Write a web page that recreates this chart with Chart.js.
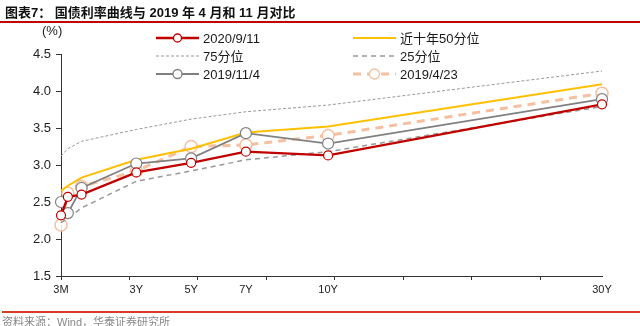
<!DOCTYPE html>
<html>
<head>
<meta charset="utf-8">
<script src="https://cdn.jsdelivr.net/npm/chart.js@4.4.1/dist/chart.umd.min.js"></script>
<style>
  html, body { margin: 0; padding: 0; background: #fff; }
  #wrap { position: relative; width: 640px; height: 326px; overflow: hidden; font-family: "Liberation Sans", "Noto Sans CJK SC", sans-serif; }
  #title { position: absolute; left: 5px; top: 2px; font-size: 13px; font-weight: bold; color: #111; white-space: nowrap; font-family: "Liberation Sans", "Noto Sans CJK SC", sans-serif; }
  #tline { position: absolute; left: 0; top: 21px; width: 640px; height: 1.5px; background: #C00000; }
  #bline { position: absolute; left: 2px; top: 311px; width: 638px; height: 2px; background: #D93A26; }
  #source { position: absolute; left: 2px; top: 313px; font-size: 11px; color: #888; white-space: nowrap; }
  #unit { position: absolute; left: 42px; top: 23px; font-size: 13px; color: #222; }
  canvas { position: absolute; left: 0; top: 0; }
</style>
</head>
<body>
<div id="wrap">
  <canvas id="c" width="640" height="326"></canvas>
  <div id="title">图表7：&nbsp;国债利率曲线与 2019 年 4 月和 11 月对比</div>
  <div id="tline"></div>
  <div id="unit">(%)</div>
  <div id="bline"></div>
  <div id="source">资料来源：Wind，华泰证券研究所</div>
</div>
<script>
// ---- data ----
const tenors      = [0.25, 0.5, 1, 3, 5, 7, 10, 20];
const tenorNames  = ['3M', '6M', '1Y', '3Y', '5Y', '7Y', '10Y', '30Y'];
const labelTenors = [0.25, 3, 5, 7, 10, 20];
const labelNames  = ['3M', '3Y', '5Y', '7Y', '10Y', '30Y'];
const tickMarks   = [0.25, 2.75, 5.25, 7.75, 10.25, 12.75, 15.25, 17.75];
const yTickValues = [1.5, 2.0, 2.5, 3.0, 3.5, 4.0, 4.5];

const s20200911 = [2.32, 2.57, 2.60, 2.90, 3.03, 3.18, 3.13, 3.82];
const sMedian   = [2.65, 2.72, 2.83, 3.07, 3.22, 3.44, 3.52, 4.09];
const sP75      = [3.12, 3.22, 3.32, 3.48, 3.62, 3.72, 3.81, 4.27];
const sP25      = [2.22, 2.28, 2.42, 2.78, 2.92, 3.07, 3.18, 3.79];
const s20191104 = [2.50, 2.35, 2.69, 3.02, 3.09, 3.43, 3.29, 3.89];
const s20190423 = [2.19, 2.62, 2.71, 2.92, 3.25, 3.27, 3.40, 3.97];

const names = ['2020/9/11', '近十年50分位', '75分位', '25分位', '2019/11/4', '2019/4/23'];

const pts = arr => arr.map((v, i) => ({ x: tenors[i], y: v }));

const RED = '#C00000', YEL = '#FFC000', DG = '#999999', GRY = '#808080', PNK = '#F5BFA0';

const datasets = [
  { label: names[0], data: pts(s20200911), borderColor: RED, borderWidth: 2.3,
    pointRadius: 4.5, pointBackgroundColor: '#fff', pointBorderColor: RED, pointBorderWidth: 1.2 },
  { label: names[4], data: pts(s20191104), borderColor: GRY, borderWidth: 1.8,
    pointRadius: 5.5, pointBackgroundColor: '#fff', pointBorderColor: GRY, pointBorderWidth: 1.2 },
  { label: names[1], data: pts(sMedian), borderColor: YEL, borderWidth: 2, pointRadius: 0 },
  { label: names[2], data: pts(sP75), borderColor: DG, borderWidth: 1, borderDash: [3, 2], pointRadius: 0 },
  { label: names[3], data: pts(sP25), borderColor: DG, borderWidth: 1.5, borderDash: [5, 4], pointRadius: 0 },
  { label: names[5], data: pts(s20190423), borderColor: PNK, borderWidth: 3, borderDash: [8, 6],
    pointRadius: 6, pointBackgroundColor: 'rgba(255,255,255,0.85)', pointBorderColor: PNK, pointBorderWidth: 1.5 }
].map(d => Object.assign({ clip: false, tension: 0, fill: false }, d));

const near = (a, b) => Math.abs(a - b) < 1e-6;

const legendPlugin = {
  id: 'customLegend',
  afterDraw(chart) {
    const ctx = chart.ctx;
    const items = [
      { col: 0, row: 0, color: RED, w: 2.3, dash: [], pt: 4, ptc: RED, text: names[0] },
      { col: 1, row: 0, color: YEL, w: 2, dash: [], pt: 0, text: names[1] },
      { col: 0, row: 1, color: DG, w: 1, dash: [3, 2], pt: 0, text: names[2] },
      { col: 1, row: 1, color: DG, w: 1.5, dash: [5, 4], pt: 0, text: names[3] },
      { col: 0, row: 2, color: GRY, w: 1.8, dash: [], pt: 4.5, ptc: GRY, text: names[4] },
      { col: 1, row: 2, color: PNK, w: 3, dash: [8, 6], pt: 5, ptc: PNK, text: names[5] }
    ];
    const colX = [156, 353], rowY = [38, 56, 74], sw = 43;
    ctx.save();
    items.forEach(it => {
      const x0 = colX[it.col], y = rowY[it.row];
      ctx.beginPath();
      ctx.setLineDash(it.dash);
      ctx.lineWidth = it.w;
      ctx.strokeStyle = it.color;
      ctx.moveTo(x0, y); ctx.lineTo(x0 + sw, y);
      ctx.stroke();
      ctx.setLineDash([]);
      if (it.pt) {
        ctx.beginPath();
        ctx.arc(x0 + sw / 2, y, it.pt, 0, Math.PI * 2);
        ctx.fillStyle = '#fff'; ctx.fill();
        ctx.lineWidth = 1.3; ctx.strokeStyle = it.ptc; ctx.stroke();
      }
      ctx.fillStyle = '#1a1a1a';
      ctx.font = '13px "Liberation Sans", "Noto Sans CJK SC", sans-serif';
      ctx.textBaseline = 'middle';
      ctx.textAlign = 'left';
      ctx.fillText(it.text, x0 + sw + 4, y + 1);
    });
    ctx.restore();
  }
};

new Chart(document.getElementById('c'), {
  type: 'line',
  data: { datasets },
  plugins: [legendPlugin],
  options: {
    responsive: false,
    animation: false,
    devicePixelRatio: 1,
    layout: { padding: { top: 54, left: 0, right: 38, bottom: 0 } },
    plugins: { legend: { display: false }, tooltip: { enabled: false }, title: { display: false } },
    scales: {
      x: {
        type: 'linear', min: 0.25, max: 20,
        afterBuildTicks: s => {
          const all = Array.from(new Set(tickMarks.concat(labelTenors))).sort((a, b) => a - b);
          s.ticks = all.map(v => ({ value: v }));
        },
        afterFit: s => { s.height = 50; },
        grid: {
          drawOnChartArea: false, drawTicks: true, tickLength: 4,
          color: c => (c.tick && tickMarks.some(t => near(t, c.tick.value))) ? '#333' : 'rgba(0,0,0,0)'
        },
        border: { display: true, color: '#333', width: 1 },
        ticks: {
          autoSkip: false, maxRotation: 0, padding: 3, color: '#222',
          font: { size: 11, family: '"Liberation Sans", sans-serif' },
          callback: v => { const i = labelTenors.findIndex(t => near(t, v)); return i >= 0 ? labelNames[i] : ''; }
        }
      },
      y: {
        min: 1.5, max: 4.5,
        afterBuildTicks: s => { s.ticks = yTickValues.map(v => ({ value: v })); },
        afterFit: s => { s.width = 61; },
        grid: { drawOnChartArea: false, drawTicks: true, tickLength: 5, color: '#333' },
        border: { display: true, color: '#333', width: 1 },
        ticks: {
          padding: 5, color: '#222',
          font: { size: 13, family: '"Liberation Sans", sans-serif' },
          callback: v => Number(v).toFixed(1)
        }
      }
    }
  }
});
</script>
</body>
</html>
